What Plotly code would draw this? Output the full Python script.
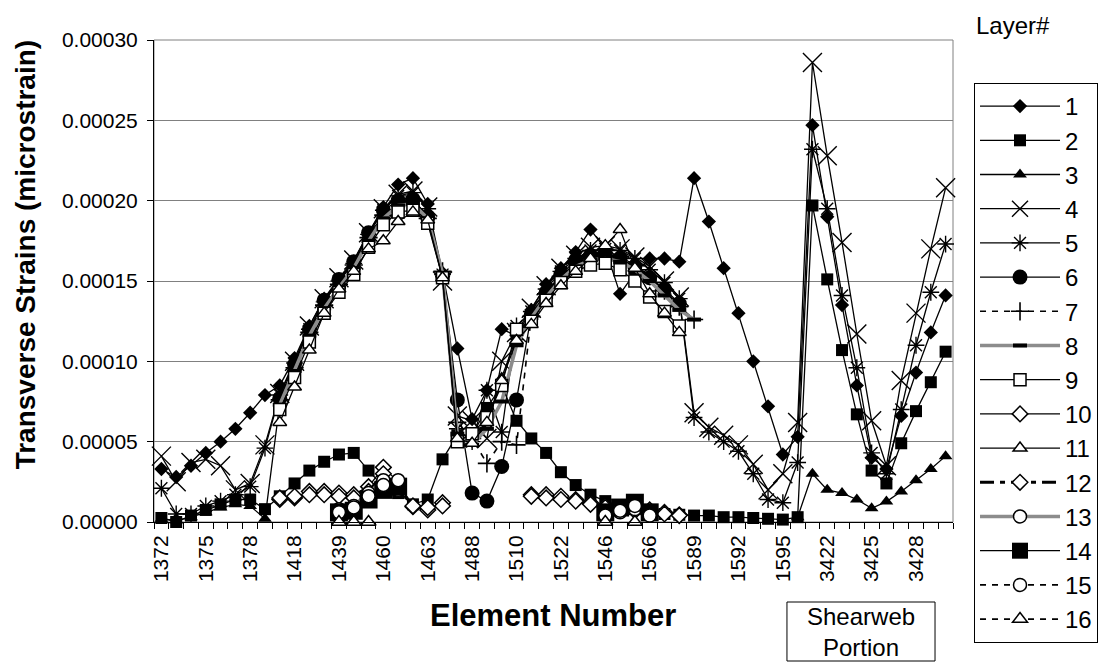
import plotly.graph_objects as go

# ---------------- data ----------------
elements = ["1372", "1373", "1374", "1375", "1376", "1377", "1378", "1379", "1380",
            "1418", "1425", "1432", "1439", "1446", "1453", "1460", "1461", "1462",
            "1463", "1470", "1481", "1488", "1495", "1502", "1510", "1514", "1518",
            "1522", "1530", "1538", "1546", "1553", "1559", "1566", "1573", "1581",
            "1589", "1590", "1591", "1592", "1593", "1594", "1595", "1596", "3421",
            "3422", "3423", "3424", "3425", "3426", "3427", "3428", "3429", "3430"]
tick_labels = ["1372", "1375", "1378", "1418", "1439", "1460", "1463", "1488", "1510",
               "1522", "1546", "1566", "1589", "1592", "1595", "3422", "3425", "3428"]

N = None
SCALE = 1e-5  # values below are read in units of 1e-5 strain

layer1 = [3.3, 2.8, 3.5, 4.3, 5.0, 5.8, 6.8, 7.9, 8.5, 10.2, 12.2, 13.9, 15.0, 16.2, 18.0, 19.6, 21.0, 21.4,
          19.8, 15.5, 10.8, 6.4, 8.2, 12.0, 11.6, 13.2, 14.8, 15.8, 16.8, 18.2, 17.0, 14.2, 15.5, 16.4, 16.4, 16.2,
          21.4, 18.7, 15.8, 13.0, 10.0, 7.2, 4.2, 5.3, 24.7, 19.0, 13.5, 8.5, 4.0, 3.3, 6.6, 9.3, 11.8, 14.1]
layer2 = [0.25, 0.0, 0.4, 0.75, 1.1, 1.4, 1.4, 0.8, 1.6, 2.4, 3.2, 3.75, 4.2, 4.3, 3.2, 2.2, 1.8, 1.1,
          1.4, 3.9, 5.4, 5.4, 7.1, 8.5, 6.3, 5.2, 4.3, 3.1, 2.3, 1.7, 1.3, 1.0, 0.8, 0.6, 0.5, 0.45,
          0.4, 0.4, 0.3, 0.3, 0.25, 0.2, 0.15, 0.3, 19.7, 15.1, 10.7, 6.7, 3.2, 2.4, 4.9, 6.9, 8.7, 10.6]
layer3 = [0.2, 0.1, 0.3, 0.6, 0.9, 1.1, 1.0, 0.2, 7.4, 9.5, 11.6, 13.4, 14.7, 15.8, 17.6, 19.0, 19.8, 20.0,
          19.1, 15.3, 5.5, 5.0, 6.0, 9.0, 11.5, 12.8, 14.2, 15.3, 16.1, 16.5, 16.6, 16.5, 16.0, 15.2, 14.4, 13.5,
          N, N, N, N, N, N, N, 0.3, 3.0, 2.0, 1.8, 1.4, 0.85, 1.27, 1.9, 2.6, 3.3, 4.1]
layer4 = [4.1, 2.5, 3.7, 3.9, 3.5, 2.0, 2.4, 4.8, 8.0, 10.0, 12.2, 13.9, 15.2, 16.3, 18.0, 19.5, 20.4, 20.6,
          19.6, 15.0, 6.6, 6.3, 5.2, 10.0, 11.8, 13.3, 14.7, 15.8, 16.6, 17.1, 17.2, 17.0, 16.5, 15.9, 15.0, 14.0,
          6.8, 5.9, 5.4, 4.8, 3.6, 2.0, 3.0, 6.2, 28.6, 22.8, 17.4, 11.7, 6.3, 3.5, 8.8, 13.0, 17.0, 20.8]
layer5 = [2.1, 0.5, 0.5, 1.0, 1.3, 1.7, 2.2, 4.6, 7.9, 9.9, 12.0, 13.7, 15.0, 16.1, 17.9, 19.4, 20.3, 20.5,
          19.5, 15.4, 5.8, 5.0, 8.2, 5.6, 12.2, 13.1, 14.5, 15.6, 16.4, 16.9, 17.0, 16.9, 16.4, 15.7, 14.9, 13.9,
          6.5, 5.6, 5.0, 4.4, 3.0, 1.4, 1.2, 3.7, 23.2, 19.5, 14.1, 9.6, 4.3, 3.0, 7.0, 11.0, 14.3, 17.3]
layer6 = [N, N, N, N, N, N, N, N, 7.7, 9.8, 12.0, 13.8, 15.1, 16.2, 18.0, 19.4, 20.0, 20.1,
          19.0, 15.3, 7.6, 1.8, 1.3, 3.45, 7.6, 12.9, 14.3, 15.4, 16.3, 16.6, 16.7, 16.4, 15.9, 15.2, 14.5, 13.6,
          N, N, N, N, N, N, N, N, N, N, N, N, N, N, N, N, N, N]
layer7 = [N, N, N, N, N, N, N, N, 7.6, 9.6, 11.8, 13.5, 14.8, 16.0, 17.7, 19.1, 19.9, 20.0,
          18.9, 15.6, 6.2, 5.2, 3.65, 5.0, 4.8, 12.8, 14.2, 15.3, 16.1, 16.5, 16.6, 16.5, 16.0, 15.3, 14.4, 13.4,
          12.6, N, N, N, N, N, N, N, N, N, N, N, N, N, N, N, N, N]
layer8 = [N, N, N, N, N, N, N, N, 7.3, 9.4, 11.6, 13.3, 14.6, 15.8, 17.5, 18.9, 19.7, 19.8,
          18.9, 15.5, 5.5, 4.8, 5.8, 7.5, 11.0, 12.7, 14.0, 15.1, 15.9, 16.3, 16.4, 16.2, 15.7, 15.0, 14.1, 13.2,
          12.6, N, N, N, N, N, N, N, N, N, N, N, N, N, N, N, N, N]
layer9 = [N, N, N, N, N, N, N, N, 7.0, 9.0, 11.2, 13.0, 14.3, 15.4, 17.1, 18.5, 19.3, 19.4,
          18.6, 15.2, 5.0, 5.5, 6.5, 8.5, 12.0, 12.5, 13.8, 14.9, 15.6, 16.0, 16.1, 15.7, 15.0, 14.0, 13.1, 12.2,
          N, N, N, N, N, N, N, N, N, N, N, N, N, N, N, N, N, N]
layer10 = [N, N, N, N, N, N, N, N, 1.4, 1.5, 1.9, 1.9, 1.8, 1.7, 2.2, 3.4, 2.5, 0.95,
           0.75, 1.2, N, N, N, N, N, 1.7, 1.7, 1.6, 1.4, 1.2, 1.0, 0.8, 0.7, 0.75, 0.6, 0.45,
           N, N, N, N, N, N, N, N, N, N, N, N, N, N, N, N, N, N]
layer11 = [N, N, N, N, N, N, N, N, 6.2, 8.4, 10.7, 13.0, 14.5, 15.6, 17.0, 17.5, 18.7, 19.3,
           18.8, 15.2, 5.2, 4.9, 6.2, 8.8, 11.3, 12.3, 13.6, 14.7, 15.6, 16.4, 17.2, 18.2, 15.8, 14.2, 13.0, 11.8,
           N, N, N, N, N, N, N, N, N, N, N, N, N, N, N, N, N, N]
layer12 = [N, N, N, N, N, N, N, N, 1.5, 1.6, 1.7, 1.7, 1.6, 1.5, 1.9, 3.0, 2.2, 1.0,
           0.9, 1.0, N, N, N, N, N, 1.6, 1.5, 1.4, 1.3, 1.1, 0.9, 0.8, 0.7, 0.6, 0.5, 0.4,
           N, N, N, N, N, N, N, N, N, N, N, N, N, N, N, N, N, N]
layer13 = [N, N, N, N, N, N, N, N, N, N, N, N, 0.8, 1.0, 1.8, 2.6, 2.0, N,
           N, N, N, N, N, N, N, N, N, N, N, N, 0.5, 0.6, 0.8, 0.5, N, N,
           N, N, N, N, N, N, N, N, N, N, N, N, N, N, N, N, N, N]
layer14 = [N, N, N, N, N, N, N, N, N, N, N, N, 0.6, 0.7, 1.4, 2.0, 2.2, N,
           N, N, N, N, N, N, N, N, N, N, N, N, 0.6, 0.9, 1.2, 0.6, N, N,
           N, N, N, N, N, N, N, N, N, N, N, N, N, N, N, N, N, N]
layer15 = [N, N, N, N, N, N, N, N, N, N, N, N, 0.6, 0.9, 1.6, 2.3, 2.6, N,
           N, N, N, N, N, N, N, N, N, N, N, N, 0.4, 0.7, 1.0, 0.4, N, N,
           N, N, N, N, N, N, N, N, N, N, N, N, N, N, N, N, N, N]
layer16 = [N, N, N, N, N, N, N, N, N, N, N, N, 0.0, 0.0, 0.0, N, N, N,
           N, N, N, N, N, N, N, N, N, N, N, N, 0.0, -0.1, 0.0, N, N, N,
           N, N, N, N, N, N, N, N, N, N, N, N, N, N, N, N, N, N]

layers = [layer1, layer2, layer3, layer4, layer5, layer6, layer7, layer8,
          layer9, layer10, layer11, layer12, layer13, layer14, layer15, layer16]
layer_names = [str(i) for i in range(1, 17)]

# ---------------- styles ----------------
BLK = "black"
WHT = "white"
GRY = "#8c8c8c"
styles = [
    dict(symbol="diamond", size=11, color=BLK, lc=BLK, lw=1.3, dash="solid", mlw=0),
    dict(symbol="square", size=12, color=BLK, lc=BLK, lw=1.3, dash="solid", mlw=0),
    dict(symbol="triangle-up", size=12, color=BLK, lc=BLK, lw=1.3, dash="solid", mlw=0),
    dict(symbol="x-thin-open", size=19, color=BLK, lc=BLK, lw=1.3, dash="solid", mlw=1.4),
    dict(symbol="asterisk-open", size=14, color=BLK, lc=BLK, lw=1.3, dash="solid", mlw=1.4),
    dict(symbol="circle", size=15, color=BLK, lc=BLK, lw=1.3, dash="solid", mlw=0),
    dict(symbol="cross-thin-open", size=13, color=BLK, lc=BLK, lw=1.6, dash="6px,6px", mlw=1.6),
    dict(symbol="line-ew-open", size=10, color=BLK, lc=GRY, lw=3.5, dash="solid", mlw=4),
    dict(symbol="square", size=12, color=WHT, lc=BLK, lw=1.3, dash="solid", mlw=1.5),
    dict(symbol="diamond", size=12, color=WHT, lc=BLK, lw=1.3, dash="solid", mlw=1.5),
    dict(symbol="triangle-up", size=12, color=WHT, lc=BLK, lw=1.3, dash="solid", mlw=1.5),
    dict(symbol="diamond", size=12, color=WHT, lc=BLK, lw=3.0, dash="14px,6px,5px,6px", mlw=1.5),
    dict(symbol="circle", size=13, color=WHT, lc=GRY, lw=3.5, dash="solid", mlw=1.5),
    dict(symbol="square", size=18, color=BLK, lc=BLK, lw=1.3, dash="solid", mlw=0),
    dict(symbol="circle", size=13, color=WHT, lc=BLK, lw=1.6, dash="6px,6px", mlw=1.5),
    dict(symbol="triangle-up", size=13, color=WHT, lc=BLK, lw=1.6, dash="6px,6px", mlw=1.5),
]

FONT = "Liberation Sans, Arial, sans-serif"
xpos = list(range(len(elements)))
label_pos = [elements.index(t) for t in tick_labels]

fig = go.Figure()
for name, vals, st in zip(layer_names, layers, styles):
    y = [None if v is None else v * SCALE for v in vals]
    fig.add_trace(go.Scatter(
        x=xpos, y=y, name=name, mode="lines+markers", connectgaps=False,
        cliponaxis=False, legendgroup=name,
        line=dict(color=st["lc"], width=st["lw"], dash=st["dash"]),
        marker=dict(symbol=st["symbol"], size=st["size"], color=st["color"],
                    line=dict(color=BLK, width=st["mlw"])),
    ))

fig.update_layout(
    width=1098, height=671,
    margin=dict(l=154, r=145, t=40, b=149, autoexpand=False),
    paper_bgcolor="white", plot_bgcolor="white",
    font=dict(family=FONT, size=21, color="black"),
    showlegend=True,
    legend=dict(x=1.0263, y=0.9108, xanchor="left", yanchor="top",
                bordercolor="black", borderwidth=1, bgcolor="white",
                font=dict(family=FONT, size=24, color="black"),
                tracegroupgap=0, itemsizing="trace", itemwidth=80,
                maxheight=620),
    xaxis=dict(range=[-0.5, len(elements) - 0.5], tickmode="array",
               tickvals=label_pos, ticktext=tick_labels, tickangle=-90,
               ticks="", ticklen=0, ticklabelstandoff=4,
               showgrid=False, zeroline=False,
               showline=True, linecolor="black", linewidth=1,
               tickfont=dict(family=FONT, size=21, color="black"),
               minor=dict(tick0=-0.5, dtick=1, ticks="outside", ticklen=6,
                          tickcolor="black", showgrid=False)),
    yaxis=dict(range=[0, 0.0003], dtick=0.00005, tickformat=".5f",
               showgrid=True, gridcolor="#808080", gridwidth=1, zeroline=False,
               showline=True, linecolor="black", linewidth=1,
               ticks="outside", ticklen=6, tickcolor="black", ticklabelstandoff=5,
               tickfont=dict(family=FONT, size=21, color="black")),
    shapes=[
        dict(type="rect", xref="paper", yref="paper", x0=0, x1=1, y0=0, y1=1,
             line=dict(color="#808080", width=1), layer="below"),
        dict(type="rect", xref="paper", yref="paper", x0=0.7922, x1=0.9775,
             y0=-0.2884, y1=-0.166, line=dict(color="black", width=1)),
    ],
    annotations=[
        dict(text="<b>Transverse Strains (microstrain)</b>", xref="paper", yref="paper",
             x=-0.161, y=0.556, xanchor="center", yanchor="middle", textangle=-90,
             showarrow=False, font=dict(family=FONT, size=28, color="black")),
        dict(text="<b>Element Number</b>", xref="paper", yref="paper",
             x=0.4994, y=-0.193, xanchor="center", yanchor="middle", showarrow=False,
             font=dict(family=FONT, size=31, color="black")),
        dict(text="Shearweb<br>Portion", xref="paper", yref="paper",
             x=0.8848, y=-0.2272, xanchor="center", yanchor="middle", showarrow=False,
             font=dict(family=FONT, size=24, color="black")),
        dict(text="Layer#", xref="paper", yref="paper", x=1.0263, y=1.031,
             xanchor="left", yanchor="middle", showarrow=False,
             font=dict(family=FONT, size=24, color="black")),
    ],
)

fig.write_html("out.html", config={"displayModeBar": False},
               post_script="document.body.style.margin='0px';document.body.style.overflow='hidden';")
